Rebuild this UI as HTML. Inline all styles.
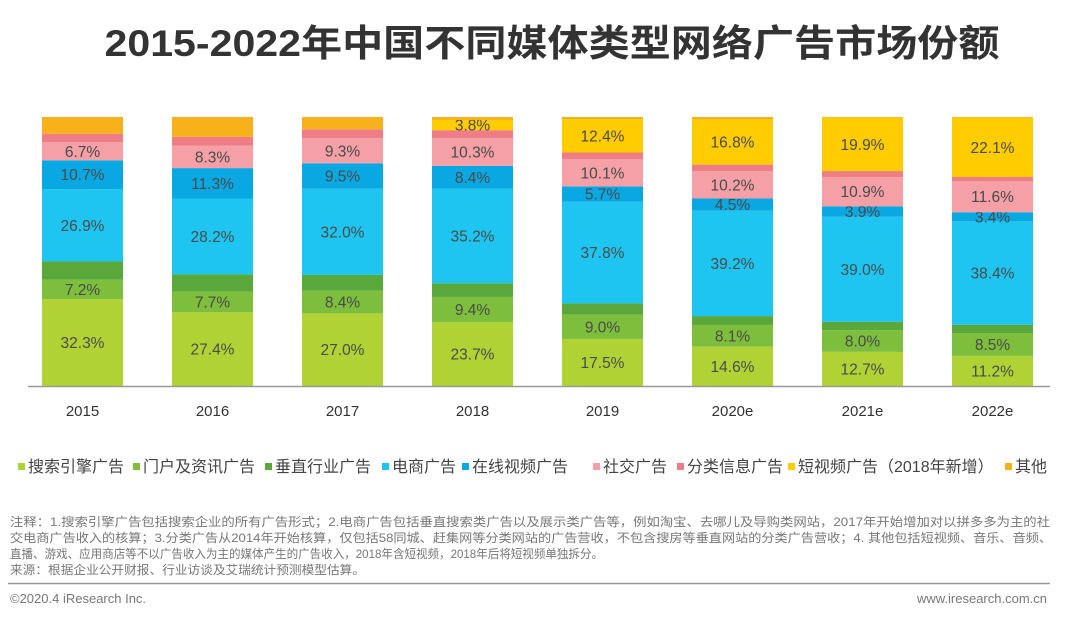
<!DOCTYPE html>
<html><head><meta charset="utf-8"><style>
html,body{margin:0;padding:0;background:#fff;}
svg{display:block;font-family:"Liberation Sans","Noto Sans CJK SC",sans-serif;}
</style></head><body>
<svg id="chart" width="1080" height="618" viewBox="0 0 1080 618" xmlns="http://www.w3.org/2000/svg">
<text x="552" y="56" text-anchor="middle" font-size="37" font-weight="bold" fill="#333" textLength="895" lengthAdjust="spacingAndGlyphs">2015-2022年中国不同媒体类型网络广告市场份额</text>
<g id="bars"></g>
<line x1="28" y1="386.5" x2="1050" y2="386.5" stroke="#999" stroke-width="1.5"/>
<g id="xlabels"></g>
<g id="legend"></g>
<g font-size="12" fill="#777">
<text x="10" y="526" textLength="1040" lengthAdjust="spacingAndGlyphs">注释：1.搜索引擎广告包括搜索企业的所有广告形式；2.电商广告包括垂直搜索类广告以及展示类广告等，例如淘宝、去哪儿及导购类网站，2017年开始增加对以拼多多为主的社</text>
<text x="10" y="542" textLength="1042" lengthAdjust="spacingAndGlyphs">交电商广告收入的核算；3.分类广告从2014年开始核算，仅包括58同城、赶集网等分类网站的广告营收，不包含搜房等垂直网站的分类广告营收；4. 其他包括短视频、音乐、音频、</text>
<text x="10" y="558" textLength="593" lengthAdjust="spacingAndGlyphs">直播、游戏、应用商店等不以广告收入为主的媒体产生的广告收入，2018年含短视频，2018年后将短视频单独拆分。</text>
<text x="10" y="574" textLength="355" lengthAdjust="spacingAndGlyphs">来源：根据企业公开财报、行业访谈及艾瑞统计预测模型估算。</text>
</g>
<line x1="8" y1="583.5" x2="1050" y2="583.5" stroke="#999" stroke-width="1.5"/>
<text x="10" y="603" font-size="13" fill="#777">©2020.4 iResearch Inc.</text>
<text x="1047" y="603" font-size="13" fill="#777" text-anchor="end">www.iresearch.com.cn</text>
</svg>
<script>
const categories = ["2015","2016","2017","2018","2019","2020e","2021e","2022e"];
const seriesNames = ["搜索引擎广告","门户及资讯广告","垂直行业广告","电商广告","在线视频广告","社交广告","分类信息广告","短视频广告（2018年新增）","其他"];
const search   = [32.3,27.4,27.0,23.7,17.5,14.6,12.7,11.2];
const portal   = [7.2,7.7,8.4,9.4,9.0,8.1,8.0,8.5];
const vertical = [6.8,6.4,5.9,5.1,4.2,3.3,3.2,3.1];
const ecommerce= [26.9,28.2,32.0,35.2,37.8,39.2,39.0,38.4];
const video    = [10.7,11.3,9.5,8.4,5.7,4.5,3.9,3.4];
const social   = [6.7,8.3,9.3,10.3,10.1,10.2,10.9,11.6];
const classified=[3.2,3.3,3.3,3.0,2.5,2.4,2.2,1.5];
const shortVideo=[0,0,0,3.8,12.4,16.8,19.9,22.1];
const other    = [6.2,7.4,4.6,1.1,0.8,0.9,0.2,0.2];
const labeled = [true,true,false,true,true,true,false,true,false];

const series=[search,portal,vertical,ecommerce,video,social,classified,shortVideo,other];
const colors=["#b0d235","#7dbf3d","#5aa83c","#1ec5f0","#09a8e2","#f4a0a6","#ef7d86","#ffcc00","#f7b21b"];
const NS="http://www.w3.org/2000/svg";
const plotTop=117, plotBottom=386, firstX=42, step=130, barW=81;
const x=i=>firstX+i*step;
const y=v=>plotBottom-(v/100)*(plotBottom-plotTop);
const bars=document.getElementById('bars');
categories.forEach((c,i)=>{
  const total=series.reduce((s,a)=>s+a[i],0);
  let cum=0;
  series.forEach((arr,k)=>{
    const v=arr[i]/total*100;
    if(v<=0){return;}
    const y0=y(cum), y1=y(cum+v);
    const r=document.createElementNS(NS,'rect');
    
    
    r.setAttribute('x',x(i)); r.setAttribute('y',y1);
    r.setAttribute('width',barW); r.setAttribute('height',y0-y1);
    r.setAttribute('fill',colors[k]);
    bars.appendChild(r);
    if(labeled[k]){
      const t=document.createElementNS(NS,'text');
      
      
      t.setAttribute('x',x(i)+barW/2); t.setAttribute('y',(y0+y1)/2+5.5);
      t.setAttribute('text-anchor','middle'); t.setAttribute('font-size','15.5');
      t.setAttribute('fill','#4a4a4a');
      t.textContent=arr[i].toFixed(1)+'%';
      bars.appendChild(t);
    }
    cum+=v;
  });
  const xl=document.createElementNS(NS,'text');
  
  
  xl.setAttribute('x',x(i)+barW/2); xl.setAttribute('y',416);
  xl.setAttribute('text-anchor','middle'); xl.setAttribute('font-size','15');
  xl.setAttribute('fill','#333');
  xl.textContent=c;
  document.getElementById('xlabels').appendChild(xl);
});
const legX=[18,133,265,382,462,593,677,788,1005];
const lg=document.getElementById('legend');
seriesNames.forEach((n,k)=>{
  const g=document.createElementNS(NS,'g');
  
  
  const r=document.createElementNS(NS,'rect');
  r.setAttribute('x',legX[k]); r.setAttribute('y',463);
  r.setAttribute('width',7); r.setAttribute('height',7);
  r.setAttribute('fill',colors[k]);
  const t=document.createElementNS(NS,'text');
  t.setAttribute('x',legX[k]+10); t.setAttribute('y',472);
  t.setAttribute('font-size','16'); t.setAttribute('fill','#444');
  t.textContent=n;
  g.appendChild(r); g.appendChild(t); lg.appendChild(g);
});
</script>
</body></html>
